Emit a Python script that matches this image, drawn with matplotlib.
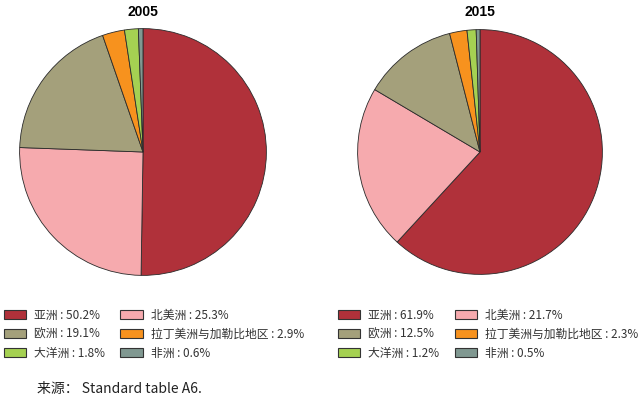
import matplotlib
matplotlib.use("Agg")
import matplotlib.pyplot as plt
from matplotlib.patches import Patch

plt.rcParams['font.family'] = ['Noto Sans CJK SC', 'DejaVu Sans']

regions = ["亚洲", "北美洲", "欧洲", "拉丁美洲与加勒比地区", "大洋洲", "非洲"]
share_2005 = [50.2, 25.3, 19.1, 2.9, 1.8, 0.6]
share_2015 = [61.9, 21.7, 12.5, 2.3, 1.2, 0.5]
years = ["2005", "2015"]
colors = ["#B0313A", "#F6AAAE", "#A4A07B", "#F7921E", "#A5D152", "#809891"]
source = "来源： Standard table A6."

W, H = 640, 398
fig = plt.figure(figsize=(W / 100, H / 100), dpi=100)


def box(cx, cy, r):
    return [(cx - r) / W, 1 - (cy + r) / H, 2 * r / W, 2 * r / H]


pies = [(share_2005, 143, 152, 124), (share_2015, 480, 152, 123)]
for i, (vals, cx, cy, r) in enumerate(pies):
    ax = fig.add_axes(box(cx, cy, r))
    ax.pie(vals, colors=colors, startangle=90, counterclock=False,
           wedgeprops=dict(edgecolor="#2a2a2a", linewidth=0.6))
    ax.set_xlim(-1.005, 1.005)
    ax.set_ylim(-1.005, 1.005)
    ax.axis("off")
    fig.text(cx / W, 1 - 12 / H, years[i], ha="center", va="center",
             fontsize=10, fontweight="bold", family="Liberation Sans")

    order = [0, 2, 4, 1, 3, 5]
    handles = [Patch(facecolor=colors[k], edgecolor="#333333", linewidth=0.8)
               for k in order]
    labels = [f"{regions[k]} : {vals[k]}%" for k in order]
    lx = 4 if i == 0 else 338
    fig.legend(handles, labels, loc="upper left",
               bbox_to_anchor=(lx / W, 1 - 309 / H), ncol=2, frameon=False,
               fontsize=8.5, handlelength=1.9, handleheight=0.8,
               handletextpad=0.65, columnspacing=1.3, labelspacing=0.5,
               borderpad=0, borderaxespad=0, labelcolor="#333333")

fig.text(37 / W, 1 - 389 / H, source, ha="left", va="center",
         fontsize=10, color="#222222")

fig.savefig("out.png", dpi=100)
